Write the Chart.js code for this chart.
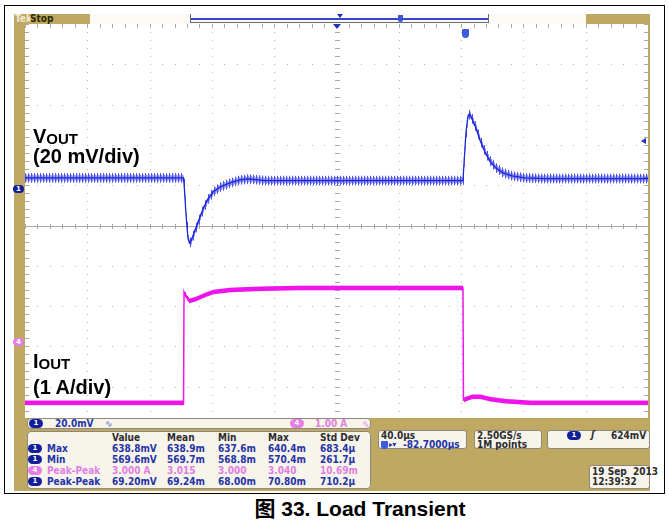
<!DOCTYPE html>
<html><head><meta charset="utf-8">
<script src="https://cdn.jsdelivr.net/npm/chart.js@4.4.0/dist/chart.umd.min.js"></script>
<style>
html,body{margin:0;padding:0;background:#fff;}
body{width:669px;height:531px;position:relative;overflow:hidden;font-family:"Liberation Sans",Arial,sans-serif;}
.a{position:absolute;}
#frame{left:4px;top:5px;width:659px;height:487px;border:1.5px solid #000;}
#gold{left:14px;top:14px;width:636px;height:477px;background:#bfa962;}
#grid{left:25px;top:24px;width:623px;height:394px;background:#fff;overflow:hidden;}
#grid canvas{position:absolute;left:0;top:0;}
.ro{font-family:"DejaVu Sans Condensed","DejaVu Sans",sans-serif;font-weight:bold;font-size:10px;line-height:11px;white-space:nowrap;}
.blue{color:#2433a6;}
.mag{color:#e27ee2;}
.dark{color:#2c2c2c;}
.box{background:#f7f4ec;border:1px solid #8e877a;border-radius:4px;box-sizing:border-box;}
.pill{border-radius:5px;color:#fff;font-family:"DejaVu Sans",sans-serif;font-weight:bold;font-size:7px;line-height:9px;height:9px;width:14px;text-align:center;}
.p1{background:#121f98;}
.p4{background:#e47fe4;}
.lbl{font-family:"Liberation Sans",Arial,sans-serif;font-weight:bold;font-size:20px;line-height:20px;color:#000;white-space:nowrap;}
.lbl span{font-size:15px;position:relative;top:1px;}
#cap{left:160px;width:400px;top:499px;text-align:center;font-family:"Liberation Sans","Noto Sans CJK SC",Arial,sans-serif;font-weight:bold;font-size:21px;line-height:20px;color:#000;white-space:nowrap;}
</style></head>
<body>
<div id="frame" class="a"></div>
<div id="gold" class="a"></div>
<!-- top status bar -->
<div class="a ro" style="left:15px;top:14px;color:#f3ead0;font-size:10px;line-height:10px;">Tek</div>
<div class="a ro" style="left:30px;top:14px;color:#2b2500;font-size:10px;line-height:10px;">Stop</div>
<div class="a" style="left:90px;top:14px;width:496px;height:10px;background:#fbfaf4;"></div>
<div class="a" style="left:190px;top:14px;width:299px;height:9px;border:1px solid #6a6a6a;border-top:none;box-sizing:border-box;"></div>
<div class="a" style="left:191px;top:18px;width:297px;height:2px;background:#3446d0;"></div>
<div class="a" style="left:337px;top:14px;width:0;height:0;border-left:3px solid transparent;border-right:3px solid transparent;border-top:4px solid #2030c0;"></div>
<div class="a" style="left:398px;top:15px;width:5px;height:7px;background:#3a55d8;border-radius:0 0 3px 3px;"></div>
<div id="grid" class="a"><canvas id="c" width="623" height="403"></canvas></div>
<!-- markers (positioned from scales) -->
<div id="mk1" class="a pill p1" style="left:13px;width:11px;height:8px;line-height:8px;">1</div>
<div id="mk4" class="a pill p4" style="left:13px;width:11px;height:8px;line-height:8px;">4</div>
<div id="mkExp" class="a" style="width:0;height:0;border-left:4px solid transparent;border-right:4px solid transparent;border-top:5px solid #2030c0;top:24px;"></div>
<div id="mkTrig" class="a" style="top:29px;width:7px;height:9px;background:#3b5be0;border-radius:1px 1px 4px 4px;"></div>
<div id="mkLvl" class="a" style="width:0;height:0;border-top:3px solid transparent;border-bottom:3px solid transparent;border-right:5px solid #2030c0;"></div>
<!-- labels -->
<div class="a lbl" style="left:33px;top:126px;">V<span>OUT</span></div>
<div class="a lbl" style="left:33px;top:146px;">(20 mV/div)</div>
<div class="a lbl" style="left:33px;top:351px;">I<span>OUT</span></div>
<div class="a lbl" style="left:33px;top:377px;">(1 A/div)</div>
<!-- channel scale bar -->
<div class="a box" style="left:27px;top:418px;width:344px;height:11px;"></div>
<div class="a pill p1" style="left:29px;top:419px;">1</div>
<div class="a ro blue" style="left:55px;top:418px;">20.0mV</div>
<div class="a ro" style="left:105px;top:418px;color:#8090d0;">∿</div>
<div class="a pill p4" style="left:290px;top:419px;">4</div>
<div class="a ro mag" style="left:315px;top:418px;">1.00 A</div>
<div class="a ro" style="left:362px;top:418px;color:#e8a8e8;">∿</div>
<!-- measurement table -->
<div class="a box" style="left:27px;top:431px;width:344px;height:58px;"></div>
<div id="meas"></div>
<!-- right readouts -->
<div class="a box" style="left:378px;top:430px;width:89px;height:19px;border-radius:3px;"></div>
<div class="a ro dark" style="left:381px;top:430px;">40.0µs</div>
<div class="a pill" style="left:381px;top:441px;width:7px;height:8px;background:#3b5be0;border-radius:1px 1px 3px 3px;"></div>
<div class="a ro blue" style="left:389px;top:439px;font-size:8px;">▸▾</div>
<div class="a ro blue" style="left:403px;top:439px;">-82.7000µs</div>
<div class="a box" style="left:474px;top:430px;width:68px;height:19px;border-radius:3px;"></div>
<div class="a ro dark" style="left:477px;top:430px;">2.50GS/s</div>
<div class="a ro dark" style="left:477px;top:439px;">1M points</div>
<div class="a box" style="left:547px;top:430px;width:103px;height:19px;border-radius:3px;"></div>
<div class="a pill p1" style="left:567px;top:431px;">1</div>
<div class="a ro dark" style="left:591px;top:429px;font-style:italic;">ʃ</div>
<div class="a ro dark" style="left:611px;top:430px;">624mV</div>
<div class="a box" style="left:589px;top:465px;width:61px;height:24px;border-radius:3px;"></div>
<div class="a ro dark" style="left:592px;top:466px;">19 Sep&nbsp; 2013</div>
<div class="a ro dark" style="left:592px;top:476px;">12:39:32</div>
<div id="cap" class="a">图 33. Load Transient</div>
<script>
// ---- data ----
// horizontal: 40 µs/div, 10 divisions
const timeRangeUs = [0, 400];
const voutT  = [0, 101.8, 102.4, 103.4, 104.6, 105.6, 106.6, 108.5, 111.1, 114.3, 117.5, 120.7, 125.2, 131.6, 138.0, 143.2, 154.1, 281.2, 281.8, 283.1, 284.4, 285.4, 287.0, 289.5, 292.1, 295.3, 298.5, 302.4, 306.9, 312.7, 321.0, 333.8, 400];
const voutMv = [605.6, 605.6, 599.6, 587.2, 575.8, 573.3, 574.3, 578.3, 583.7, 590.2, 595.2, 598.6, 601.1, 603.1, 604.6, 605.1, 604.3, 604.3, 612.0, 627.9, 636.3, 637.3, 634.9, 630.4, 624.4, 618.5, 614.0, 610.5, 608.1, 606.6, 605.6, 605.3, 605.3];
const ioutT  = [0, 101.8, 102.1, 103.4, 105.3, 109.1, 115.6, 120.7, 131.6, 150.9, 176.6, 281.2, 281.5, 283.1, 287.0, 292.1, 298.5, 308.2, 324.2, 400];
const ioutA  = [0, 0, 2.75, 2.63, 2.53, 2.57, 2.68, 2.75, 2.80, 2.83, 2.85, 2.85, 0.07, 0.10, 0.15, 0.15, 0.09, 0.04, 0.0, 0.0];
// vertical scales: 20 mV/div and 1 A/div over 10 divisions
const voutRange = [482, 682];
const ioutRange = [-0.6, 9.4];
const triggerLevelMv = 624;
const triggerTimeUs = 282.7;
const expansionUs = 200;
const ch1MarkerMv = 600;
const ch4MarkerA = 1.5;
// measurement table
const measHeader = ["Value", "Mean", "Min", "Max", "Std Dev"];
const measLabels = ["Max", "Min", "Peak-Peak", "Peak-Peak"];
const measChan   = ["1", "1", "4", "1"];
const measRows = [
  ["638.8mV", "638.9m", "637.6m", "640.4m", "683.4µ"],
  ["569.6mV", "569.7m", "568.8m", "570.4m", "261.7µ"],
  ["3.000 A", "3.015", "3.000", "3.040", "10.69m"],
  ["69.20mV", "69.24m", "68.00m", "70.80m", "710.2µ"]
];

// build measurement table (text)
(function(){
  const host = document.getElementById('meas');
  const cols = [112, 167, 218, 268, 320];
  const rowTop = [432, 443, 454, 465, 476];
  let h = '';
  measHeader.forEach((t,i)=>{ h += `<div class="a ro dark" style="left:${cols[i]}px;top:${rowTop[0]}px;">${t}</div>`; });
  measRows.forEach((r,ri)=>{
    const cls = measChan[ri]==='4' ? 'mag' : 'blue';
    const pc = measChan[ri]==='4' ? 'p4' : 'p1';
    const top = rowTop[ri+1];
    h += `<div class="a pill ${pc}" style="left:28px;top:${top+1}px;">${measChan[ri]}</div>`;
    h += `<div class="a ro ${cls}" style="left:47px;top:${top}px;">${measLabels[ri]}</div>`;
    r.forEach((v,ci)=>{ h += `<div class="a ro ${cls}" style="left:${cols[ci]}px;top:${top}px;">${v}</div>`; });
  });
  host.innerHTML = h;
})();

// trace band styles (visual thickness only): [half-height, alpha] per column phase
const bandCfg = {
  0: {phases:[[2.3,1],[2.3,1],[2.3,1]], color:'240,20,236'},
  1: {phases:[[4.8,0.8],[3.4,0.5],[2.4,0.45]], color:'34,40,228'}
};

const gratPlugin = {
  id: 'grat',
  beforeDatasetsDraw(c){
    const ctx = c.ctx, x = c.scales.x, y = c.scales.yV;
    const xs = [], ys = [];
    for (let k=0;k<=10;k++){ xs.push(x.getPixelForValue(timeRangeUs[0] + k*40)); ys.push(y.getPixelForValue(voutRange[0] + k*20)); }
    const dx = (xs[10]-xs[0])/50, dy = (ys[0]-ys[10])/50;
    ctx.save();
    ctx.fillStyle = '#b0b0b0';
    for (let k=1;k<10;k++){
      for (let j=0;j<=50;j++){
        ctx.fillRect(Math.round(xs[k]), Math.round(ys[10]+j*dy), 1, 1);
        ctx.fillRect(Math.round(xs[0]+j*dx), Math.round(ys[k]), 1, 1);
      }
    }
    // centre lines with ticks
    ctx.fillStyle = '#a8a8a8';
    const cxp = Math.round(xs[5]), cyp = Math.round(ys[5]);
    ctx.fillRect(xs[0], cyp, xs[10]-xs[0], 1);
    for (let j=0;j<=50;j++){
      ctx.fillRect(Math.round(xs[0]+j*dx), cyp-2, 1, 5);
      ctx.fillRect(cxp-2, Math.round(ys[10]+j*dy), 5, 1);
      ctx.fillRect(Math.round(xs[0]+j*dx), 0, 1, 4);
      ctx.fillRect(0, Math.round(ys[10]+j*dy), 4, 1);
      ctx.fillRect(Math.round(xs[10])-4, Math.round(ys[10]+j*dy), 4, 1);
    }
    // ripple band of each trace (style only)
    c.data.datasets.forEach((ds,di)=>{
      const b = bandCfg[di]; if(!b) return;
      const pts = c.getDatasetMeta(di).data;
      for (let i=0;i<pts.length-1;i++){
        const x0=pts[i].x, y0=pts[i].y, x1=pts[i+1].x, y1=pts[i+1].y;
        if (x1 - x0 < 0.5) continue;
        for (let col=Math.ceil(x0); col<=Math.floor(x1); col++){
          const yy = y0 + (y1-y0)*(col-x0)/(x1-x0);
          const ph = b.phases[col % 3];
          ctx.fillStyle = `rgba(${b.color},${ph[1]})`;
          ctx.fillRect(col, yy-ph[0], 1, ph[0]*2);
        }
      }
    });
    ctx.restore();
  }
};

const chart = new Chart(document.getElementById('c').getContext('2d'), {
  type: 'line',
  data: { datasets: [
    { label:'IOUT', data: ioutT.map((t,i)=>({x:t, y:ioutA[i]})), yAxisID:'yI', borderColor:'#ee14ea', borderWidth:1.5, pointRadius:0, tension:0 },
    { label:'VOUT', data: voutT.map((t,i)=>({x:t, y:voutMv[i]})), yAxisID:'yV', borderColor:'#1a24d8', borderWidth:1.3, pointRadius:0, tension:0 }
  ]},
  options: {
    responsive:false, animation:false, devicePixelRatio:1, events:[],
    layout:{padding:0},
    plugins:{legend:{display:false}, tooltip:{enabled:false}},
    scales:{
      x:{type:'linear', min:timeRangeUs[0], max:timeRangeUs[1], display:false},
      yV:{type:'linear', min:voutRange[0], max:voutRange[1], display:false},
      yI:{type:'linear', min:ioutRange[0], max:ioutRange[1], display:false}
    }
  },
  plugins:[gratPlugin]
});

// position indicators from the scales
(function(){
  const ox = 25, oy = 24;
  const s = chart.scales;
  const set = (id, l, t) => { const e=document.getElementById(id); if(l!==null) e.style.left=l+'px'; if(t!==null) e.style.top=t+'px'; };
  set('mk1', null, oy + s.yV.getPixelForValue(ch1MarkerMv) - 4);
  set('mk4', null, oy + s.yI.getPixelForValue(ch4MarkerA) - 4);
  set('mkExp', ox + s.x.getPixelForValue(expansionUs) - 4, null);
  set('mkTrig', ox + s.x.getPixelForValue(triggerTimeUs) - 3, null);
  set('mkLvl', ox + s.x.getPixelForValue(400) - 7, oy + s.yV.getPixelForValue(triggerLevelMv) - 3);
})();
</script>
</body></html>
